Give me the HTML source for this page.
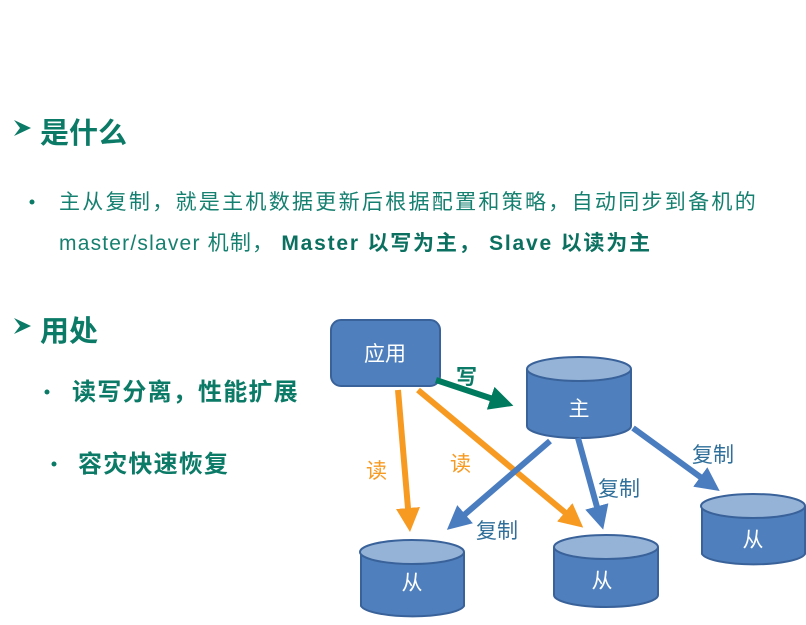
<!DOCTYPE html>
<html><head><meta charset="utf-8"><style>
body{margin:0;width:806px;height:620px;background:#fff;overflow:hidden;font-family:"Liberation Sans","Noto Sans CJK SC",sans-serif}
</style></head><body>
<svg width="806" height="620" xmlns="http://www.w3.org/2000/svg" font-family="Liberation Sans, Noto Sans CJK SC, sans-serif">
<defs>
<marker id="mg" markerWidth="4" markerHeight="4" refX="2" refY="2" orient="auto" markerUnits="strokeWidth"><path d="M0,0L4,2L0,4z" fill="#007a5e"/></marker>
<marker id="mo" markerWidth="4" markerHeight="4" refX="2" refY="2" orient="auto" markerUnits="strokeWidth"><path d="M0,0L4,2L0,4z" fill="#f79a22"/></marker>
<marker id="mb" markerWidth="4" markerHeight="4" refX="2" refY="2" orient="auto" markerUnits="strokeWidth"><path d="M0,0L4,2L0,4z" fill="#4a7cc0"/></marker>
</defs>
<path d="M14 120 L31 128 L14 136 L20 128z" fill="#0b7a66"/>
<text x="40" y="143" font-size="29" font-weight="bold" fill="#0b7a66">是什么</text>
<circle cx="32" cy="202" r="2.5" fill="#0b7a66"/>
<text x="59" y="209" font-size="21" letter-spacing="2.3" fill="#168070">主从复制，就是主机数据更新后根据配置和策略，自动同步到备机的</text>
<text x="59" y="250" font-size="21" letter-spacing="1.2" fill="#168070">master/slaver 机制， <tspan font-weight="bold" fill="#0b7060" letter-spacing="1.8">Master 以写为主， Slave 以读为主</tspan></text>
<path d="M14 318 L31 326 L14 334 L20 326z" fill="#0b7a66"/>
<text x="40" y="341" font-size="29" font-weight="bold" fill="#0b7a66">用处</text>
<circle cx="47" cy="392" r="2.5" fill="#0b7a66"/>
<text x="72" y="400" font-size="24" letter-spacing="1.2" font-weight="bold" fill="#0b7a66">读写分离，性能扩展</text>
<circle cx="54" cy="464" r="2.5" fill="#0b7a66"/>
<text x="78" y="472" font-size="24" letter-spacing="1.2" font-weight="bold" fill="#0b7a66">容灾快速恢复</text>

<rect x="331" y="320" width="109" height="66" rx="10" fill="#4f80bd" stroke="#3a629a" stroke-width="2"/>
<text x="385" y="361" font-size="21" fill="#fff" text-anchor="middle">应用</text>

<g stroke="#3a629a" stroke-width="2">
<path d="M527 369 V426 A52 12 0 0 0 631 426 V369" fill="#4f80bd"/><ellipse cx="579" cy="369" rx="52" ry="12" fill="#95b3d7"/>
<path d="M361 552 V606 A52 12 0 0 0 464 606 V552" fill="#4f80bd"/><ellipse cx="412" cy="552" rx="52" ry="12" fill="#95b3d7"/>
<path d="M554 547 V595 A52 12 0 0 0 658 595 V547" fill="#4f80bd"/><ellipse cx="606" cy="547" rx="52" ry="12" fill="#95b3d7"/>
<path d="M702 506 V554 A52 12 0 0 0 805 554 V506" fill="#4f80bd"/><ellipse cx="753" cy="506" rx="52" ry="12" fill="#95b3d7"/>
</g>
<text x="579" y="416" font-size="21" fill="#fff" text-anchor="middle">主</text>
<text x="412" y="590" font-size="21" fill="#fff" text-anchor="middle">从</text>
<text x="602" y="588" font-size="21" fill="#fff" text-anchor="middle">从</text>
<text x="753" y="547" font-size="21" fill="#fff" text-anchor="middle">从</text>

<line x1="436" y1="380" x2="502" y2="402" stroke="#007a5e" stroke-width="6" marker-end="url(#mg)"/>
<line x1="398" y1="390" x2="409" y2="520" stroke="#f79a22" stroke-width="6" marker-end="url(#mo)"/>
<line x1="418" y1="390" x2="574" y2="520" stroke="#f79a22" stroke-width="6" marker-end="url(#mo)"/>
<line x1="550" y1="441" x2="456" y2="522" stroke="#4a7cc0" stroke-width="6" marker-end="url(#mb)"/>
<line x1="578" y1="438" x2="600" y2="518" stroke="#4a7cc0" stroke-width="6" marker-end="url(#mb)"/>
<line x1="633" y1="428" x2="710" y2="484" stroke="#4a7cc0" stroke-width="6" marker-end="url(#mb)"/>

<text x="456" y="384" font-size="21" font-weight="bold" fill="#0b7a66">写</text>
<text x="366" y="478" font-size="21" fill="#f79a22">读</text>
<text x="450" y="471" font-size="21" fill="#f79a22">读</text>
<text x="476" y="538" font-size="21" fill="#2f6f9a">复制</text>
<text x="598" y="496" font-size="21" fill="#2f6f9a">复制</text>
<text x="692" y="462" font-size="21" fill="#2f6f9a">复制</text>
</svg>
</body></html>
